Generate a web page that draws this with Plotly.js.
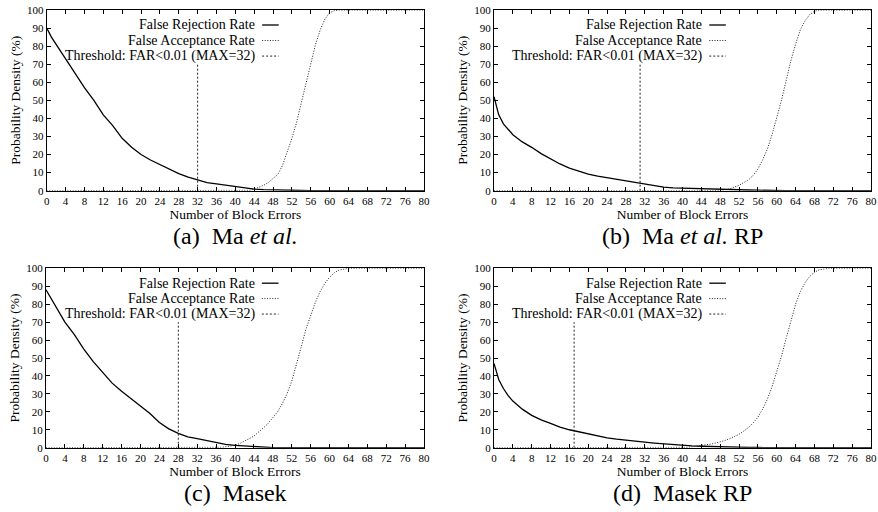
<!DOCTYPE html>
<html>
<head>
<meta charset="utf-8">
<script src="https://cdn.plot.ly/plotly-3.0.1.min.js"></script>
<style>
html,body{margin:0;padding:0;background:#fff;}
#chart{width:878px;height:512px;}
</style>
</head>
<body>
<div id="chart"></div>
<script>
// ---------- data ----------
// (a) Ma et al.
const a_frrX = [0,1,2,3,4,6,8,10,12,14,16,18,20,22,24,26,28,30,32,34,36,38,40,42,44,46,48,50,52,54,56,58,80];
const a_frrY = [90,85,81,77,73,65,57,50,42,36,29,24,20,17,14.5,12,9.5,7.5,6,4.5,3.8,3,2.2,1.5,0.9,0.6,0.4,0.3,0.2,0.1,0.05,0,0];
const a_farX = [0,42,43,44,45,46,47,48,49,50,51,52,53,54,55,56,57,58,59,60,61,62,80];
const a_farY = [0,0,0.2,0.8,1.8,3,4.5,6.5,9,14,21,29,38,49,60,71,81,89,95,98.5,99.6,100,100];

// (b) Ma et al. RP
const b_frrX = [0,1,2,3,4,6,8,10,12,14,16,18,20,22,24,26,28,30,32,34,36,38,40,42,44,46,48,50,52,54,56,58,60,62,80];
const b_frrY = [52,42,37,34,31,27,24,20.5,17.5,14.8,12.5,10.8,9.2,8.1,7.2,6.3,5.4,4.5,3.7,3,2,1.6,1.4,1.2,1,0.8,0.7,0.6,0.5,0.4,0.3,0.2,0.1,0,0];
const b_farX = [0,48,49,50,51,52,53,54,55,56,57,58,59,60,61,62,63,64,65,66,67,68,69,80];
const b_farY = [0,0,0.5,1,2,3,4.5,6,8.5,12,17,23,31,40,50,61,72,81,89,94,97.5,99.3,100,100];

// (c) Masek
const c_frrX = [0,2,4,6,8,10,12,14,16,18,20,22,24,26,28,30,32,34,36,38,40,42,44,46,48,50,80];
const c_frrY = [88,79,70,63,55,48,42,36,31.5,27.5,23,19,14,10.5,8,6,5,3.8,2.6,1.8,1.3,0.9,0.5,0.2,0.05,0,0];
const c_farX = [0,36,37,38,39,40,41,42,43,44,45,46,47,48,49,50,51,52,53,54,55,56,57,58,59,60,61,62,63,64,80];
const c_farY = [0,0,0.2,0.5,0.9,1.4,2.3,3.5,5,6.5,8.5,11,13.5,16.5,20,24.5,30,37,46,56,66,74,81,87,91.5,95,97.5,99,99.7,100,100];

// (d) Masek RP
const d_frrX = [0,1,2,3,4,6,8,10,12,14,16,18,20,22,24,26,28,30,32,34,36,38,40,42,44,46,48,50,52,54,56,58,60,80];
const d_frrY = [47,38,33,29,26,21.5,18,15.5,13.5,11.5,10,8.8,7.5,6.3,5.5,4.8,4.1,3.6,3.1,2.6,2.1,1.7,1.3,1,0.8,0.6,0.4,0.3,0.2,0.15,0.1,0.05,0,0];
const d_farX = [0,40,41,42,43,44,45,46,47,48,49,50,51,52,53,54,55,56,57,58,59,60,61,62,63,64,65,66,67,68,69,70,71,80];
const d_farY = [0,0,0.2,0.5,0.8,1.1,1.5,2,2.6,3.2,4,5,6.2,7.5,9.2,11.2,13.8,17,21.5,27,34,42,51,61,71,80,87,92,95.5,97.8,99.2,99.8,100,100];

// thresholds (x position of vertical line) and its top value
const thresholds = [32, 31, 28, 17];
const thresholdTop = 70;

const legendLabels = ["False Rejection Rate", "False Acceptance Rate", "Threshold: FAR<0.01 (MAX=32)"];
const captions = ["(a)&nbsp; Ma <i>et al.</i>", "(b)&nbsp; Ma <i>et al.</i> RP", "(c)&nbsp; Masek", "(d)&nbsp; Masek RP"];
const xTicks = [0,4,8,12,16,20,24,28,32,36,40,44,48,52,56,60,64,68,72,76,80];
const yTicks = [0,10,20,30,40,50,60,70,80,90,100];

// ---------- layout ----------
const W = 878, H = 512;
const panels = [
  {frrX:a_frrX, frrY:a_frrY, farX:a_farX, farY:a_farY, l:46.7, r:424, t:10, b:190.7},
  {frrX:b_frrX, frrY:b_frrY, farX:b_farX, farY:b_farY, l:494, r:871, t:10, b:190.7},
  {frrX:c_frrX, frrY:c_frrY, farX:c_farX, farY:c_farY, l:46, r:424, t:268.3, b:447.7},
  {frrX:d_frrX, frrY:d_frrY, farX:d_farX, farY:d_farY, l:494, r:871, t:268.3, b:447.7}
];
const captionY = [236, 236, 493, 493];

const FONT = "Liberation Serif";
const FRR_LINE = {color:"#000", width:1.3, dash:"solid"};
const FAR_LINE = {color:"#222", width:1, dash:"1px,1.6px"};
const THR_LINE = {color:"#222", width:1, dash:"2px,2px"};

const traces = [];
const layout = {
  width: W, height: H,
  margin: {l:0, r:0, t:0, b:0},
  paper_bgcolor: "#fff", plot_bgcolor: "#fff",
  showlegend: false,
  font: {family: FONT, color: "#000"},
  annotations: [], shapes: []
};

panels.forEach((p, i) => {
  const n = i + 1;
  const xa = n === 1 ? "x" : "x" + n;
  const ya = n === 1 ? "y" : "y" + n;
  const xk = n === 1 ? "xaxis" : "xaxis" + n;
  const yk = n === 1 ? "yaxis" : "yaxis" + n;

  traces.push({x:p.frrX, y:p.frrY, type:"scatter", mode:"lines", line:FRR_LINE, xaxis:xa, yaxis:ya, hoverinfo:"skip"});
  traces.push({x:p.farX, y:p.farY, type:"scatter", mode:"lines", line:FAR_LINE, xaxis:xa, yaxis:ya, hoverinfo:"skip"});
  traces.push({x:[thresholds[i], thresholds[i]], y:[0, thresholdTop], type:"scatter", mode:"lines", line:THR_LINE, xaxis:xa, yaxis:ya, hoverinfo:"skip"});

  const axBase = {
    showgrid:false, zeroline:false, showline:true, linecolor:"#000", linewidth:1,
    mirror:"ticks", ticks:"inside", ticklen:4, tickwidth:1, tickcolor:"#000",
    tickfont:{family:FONT, size:11, color:"#000"}, fixedrange:true
  };
  layout[xk] = Object.assign({}, axBase, {
    domain:[p.l / W, p.r / W], anchor: ya, range:[0, 80],
    tickvals:xTicks, ticktext:xTicks.map(String),
    title:{text:"Number of Block Errors", font:{family:FONT, size:13.5, color:"#000"}, standoff:1}
  });
  layout[yk] = Object.assign({}, axBase, {
    domain:[1 - p.b / H, 1 - p.t / H], anchor: xa, range:[0, 100],
    tickvals:yTicks, ticktext:yTicks.map(String),
    title:{text:"Probability Density (%)", font:{family:FONT, size:13.5, color:"#000"}, standoff:3}
  });

  // gnuplot-style key: right-aligned text with sample on the right
  const rowY = [0.917, 0.831, 0.745];
  const lines = [FRR_LINE, FAR_LINE, THR_LINE];
  legendLabels.forEach((txt, k) => {
    layout.annotations.push({
      xref: xa + " domain", yref: ya + " domain", x: 0.558, y: rowY[k],
      xanchor:"right", yanchor:"middle", text: txt, showarrow:false,
      font:{family:FONT, size:14, color:"#000"}
    });
    layout.shapes.push({
      type:"line", xref: xa + " domain", yref: ya + " domain",
      x0:0.571, x1:0.615, y0:rowY[k], y1:rowY[k], line: lines[k]
    });
  });

  // sub-caption
  layout.annotations.push({
    xref:"paper", yref:"paper", x:(p.l + p.r) / 2 / W, y: 1 - captionY[i] / H,
    xanchor:"center", yanchor:"middle", text: captions[i], showarrow:false,
    font:{family:FONT, size:24, color:"#000"}
  });
});

Plotly.newPlot("chart", traces, layout, {displayModeBar:false, staticPlot:true});
</script>
</body>
</html>
